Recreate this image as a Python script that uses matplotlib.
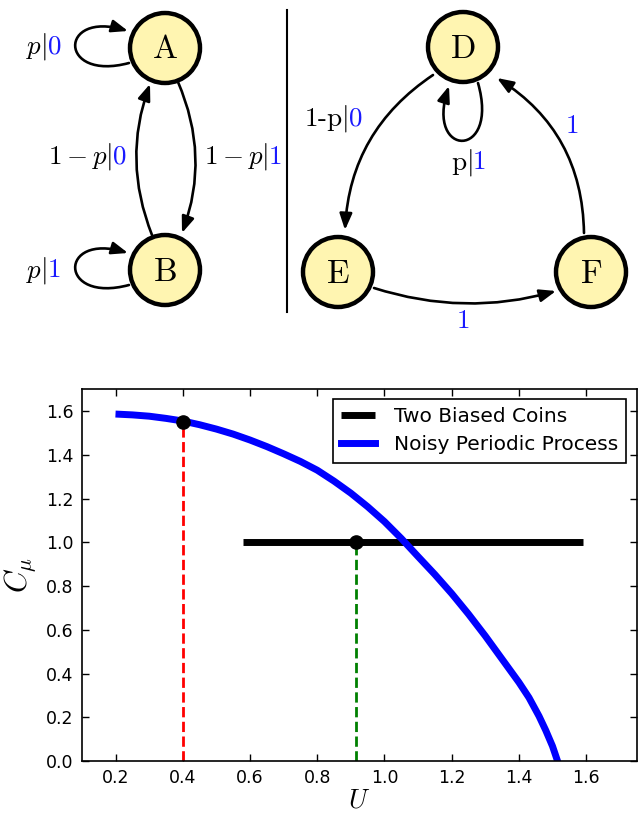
import matplotlib
matplotlib.use('Agg')
import matplotlib.pyplot as plt
from matplotlib.patches import Circle, FancyArrowPatch
from matplotlib.path import Path

plt.rcParams['mathtext.fontset'] = 'cm'

# curve values
noisy_u = [0.21, 0.25, 0.30, 0.35, 0.40, 0.45, 0.50, 0.55, 0.60, 0.65,
           0.70, 0.75, 0.80, 0.85, 0.90, 0.95, 1.00, 1.05, 1.10, 1.15,
           1.20, 1.25, 1.30, 1.35, 1.40, 1.43, 1.46, 1.48, 1.50, 1.515]
noisy_c = [1.586, 1.583, 1.577, 1.567, 1.555, 1.538, 1.518, 1.495, 1.468, 1.438,
           1.405, 1.370, 1.330, 1.280, 1.225, 1.163, 1.095, 1.018, 0.935, 0.853,
           0.766, 0.672, 0.572, 0.466, 0.360, 0.290, 0.205, 0.140, 0.068, 0.0]
coins_u = [0.58, 1.59]
coins_c = [1.0, 1.0]
red_u, red_c = 0.40, 1.55
green_u, green_c = 0.915, 1.0
x_ticks = [0.2, 0.4, 0.6, 0.8, 1.0, 1.2, 1.4, 1.6]
y_ticks = [0.0, 0.2, 0.4, 0.6, 0.8, 1.0, 1.2, 1.4, 1.6]

# state diagram (pixel layout of the upper panel)
nodes = {'A': (165, 48), 'B': (165, 270), 'D': (463, 47), 'E': (338, 272), 'F': (591, 272)}
node_r = 35
node_fill = '#fff5b1'

W, H = 638, 813
fig = plt.figure(figsize=(W / 100, H / 100), dpi=100)

top = fig.add_axes([0, 1 - 340 / H, 1, 340 / H])
top.set_xlim(0, W)
top.set_ylim(340, 0)
top.axis('off')

for name, (cx, cy) in nodes.items():
    top.add_patch(Circle((cx, cy), node_r, facecolor=node_fill, edgecolor='black', lw=3.2, zorder=3))
    top.text(cx, cy + 1, r'$\mathrm{%s}$' % name, fontsize=24, ha='center', va='center', zorder=4)

arrow_kw = dict(arrowstyle='-|>,head_length=0.65,head_width=0.25', mutation_scale=15,
                color='black', lw=1.9, shrinkA=0, shrinkB=0, zorder=2)

straight = [((178, 82), (182, 233), -0.2),
            ((152, 235), (150, 84), -0.19),
            ((433, 75), (345, 230), 0.25),
            ((584, 233), (497, 78), 0.27),
            ((374, 288), (556, 291), 0.15)]
for p0, p1, rad in straight:
    top.add_patch(FancyArrowPatch(p0, p1, connectionstyle='arc3,rad=%g' % rad, **arrow_kw))

loops = [[(129, 63), (58, 82), (58, 10), (128, 31)],
         [(129, 285), (58, 304), (58, 232), (128, 253)],
         [(478, 83), (500, 160), (425, 158), (449, 86)]]
codes = [Path.MOVETO, Path.CURVE4, Path.CURVE4, Path.CURVE4]
for verts in loops:
    top.add_patch(FancyArrowPatch(path=Path(verts, codes), **arrow_kw))

top.plot([287, 287], [10, 312], color='black', lw=1.5)

blue = '#1a1aff'
lab = 19.5


def edge_label(x, y, black, colored, **kw):
    top.text(x, y, black, fontsize=lab, ha='right', va='center', **kw)
    top.text(x, y, colored, fontsize=lab, ha='left', va='center', color=blue)


edge_label(47, 47, r'$p|$', r'$0$')
edge_label(47, 270, r'$p|$', r'$1$')
edge_label(112, 157, r'$1-p|$', r'$0$')
edge_label(268, 157, r'$1-p|$', r'$1$')
edge_label(348, 118, r'$1$-$\mathrm{p}|$', r'$0$', family='cmr10')
edge_label(472, 162, r'$\mathrm{p}|$', r'$1$')
top.text(572, 126, r'$1$', fontsize=lab, ha='center', va='center', color=blue)
top.text(463, 321, r'$1$', fontsize=lab, ha='center', va='center', color=blue)

# lower panel
ax = fig.add_axes([82 / W, 52 / H, 554.5 / W, 371.7 / H])
ax.plot(coins_u, coins_c, color='black', lw=5, label='Two Biased Coins', solid_capstyle='butt')
ax.plot(noisy_u, noisy_c, color='#0000ff', lw=5, label='Noisy Periodic Process')
ax.plot([red_u, red_u], [0, red_c], color='red', lw=2, ls='--')
ax.plot([green_u, green_u], [0, green_c], color='green', lw=2, ls='--')
ax.plot([red_u, green_u], [red_c, green_c], 'o', color='black', ms=9.5)

ax.set_xlim(0.1, 1.75)
ax.set_ylim(0, 1.7)
ax.set_xticks(x_ticks)
ax.set_yticks(y_ticks)
ax.tick_params(direction='in', top=True, right=True, length=5, width=1, labelsize=12.5, pad=6)
for s in ax.spines.values():
    s.set_linewidth(1.2)
ax.set_xlabel(r'$U$', fontsize=19, labelpad=0)
ax.set_ylabel(r'$C_\mu$', fontsize=22, labelpad=6)

leg = ax.legend(loc='upper right', fontsize=14.5, handlelength=1.7, handletextpad=0.95,
                labelspacing=0.45, fancybox=False, framealpha=1, borderaxespad=0.5, borderpad=0.4)
leg.get_frame().set_edgecolor('black')
leg.get_frame().set_linewidth(1.2)

fig.savefig('out.png', dpi=100)
